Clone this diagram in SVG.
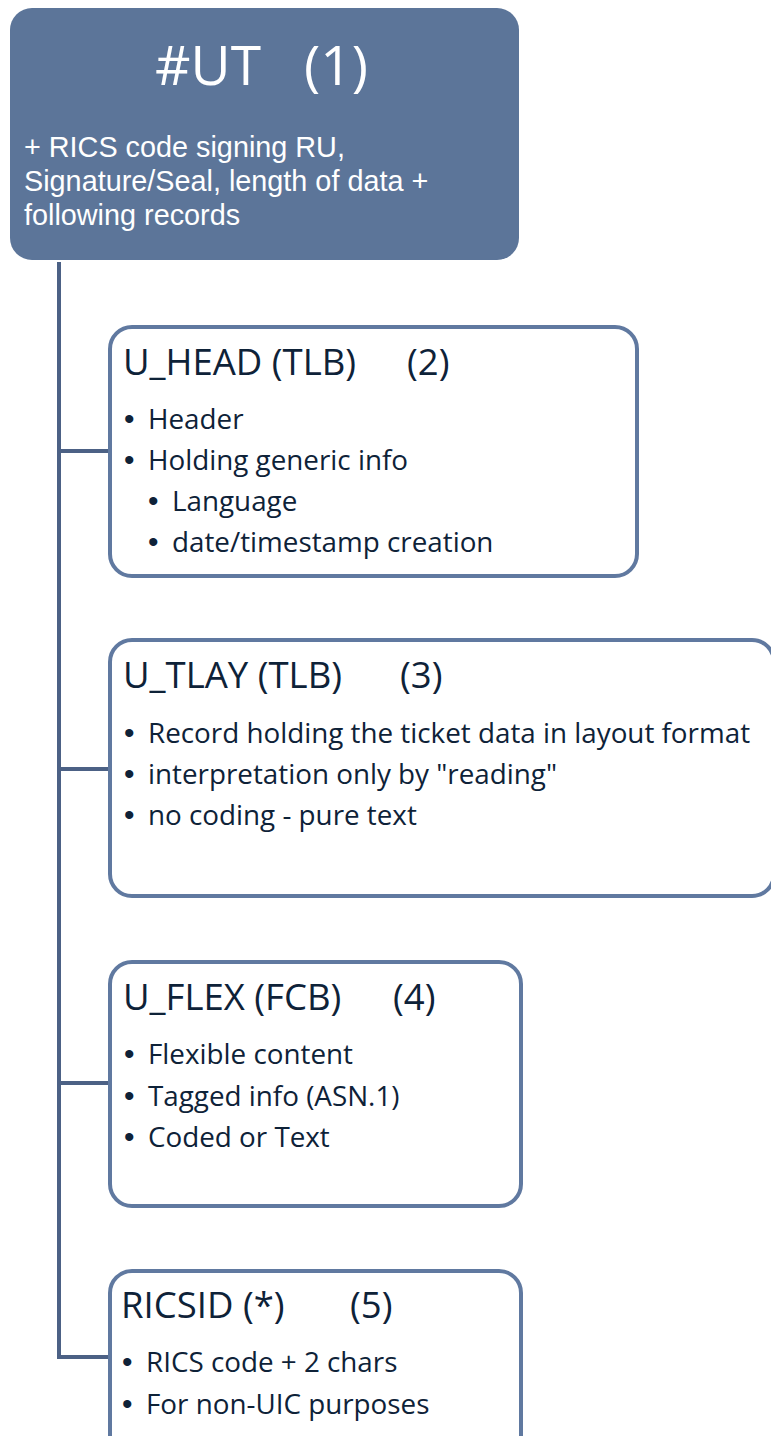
<svg xmlns="http://www.w3.org/2000/svg" width="771" height="1436" viewBox="0 0 771 1436">
<style>
.box{fill:#ffffff;stroke:#6079A0;stroke-width:4}
.conn{fill:none;stroke:#4C6185;stroke-width:4}
.t{font-family:"Open Sans","Noto Sans",sans-serif;fill:#0E2238}
.title{font-size:36.5px}
.item{font-size:27.8px}
.b{font-family:"Liberation Sans",sans-serif;font-size:30px;fill:#0E2238}
.w{font-family:"Open Sans","Noto Sans",sans-serif;fill:#ffffff}
.wb{font-family:"Liberation Sans",Arial,sans-serif;fill:#ffffff;font-size:28.8px}
</style>
<rect width="771" height="1436" fill="#ffffff"/>
<g id="connectors">
<path class="conn" d="M59 262 V1357 H111"/>
<path class="conn" d="M59 451 H111"/>
<path class="conn" d="M59 769 H111"/>
<path class="conn" d="M59 1083 H111"/>
</g>
<g id="node1">
<rect x="10" y="8" width="509" height="252" rx="22" fill="#5C7599"/>
<text class="w" x="155" y="85" font-size="55">#UT</text>
<text class="w" x="304" y="85" font-size="55">(1)</text>
<text class="wb" x="24" y="157">+ RICS code signing RU,</text>
<text class="wb" x="24" y="191">Signature/Seal, length of data +</text>
<text class="wb" x="24" y="225">following records</text>
</g>
<g id="node2">
<rect class="box" x="110" y="327" width="527" height="249" rx="22"/>
<text class="t title" x="123" y="375">U_HEAD (TLB)</text>
<text class="t title" x="407" y="375">(2)</text>
<text class="b" x="124" y="429">•</text><text class="t item" x="148" y="429">Header</text>
<text class="b" x="124" y="470">•</text><text class="t item" x="148" y="470">Holding generic info</text>
<text class="b" x="148" y="511">•</text><text class="t item" x="172" y="511">Language</text>
<text class="b" x="148" y="552">•</text><text class="t item" x="172" y="552">date/timestamp creation</text>
</g>
<g id="node3">
<rect class="box" x="110" y="640" width="664" height="256" rx="22"/>
<text class="t title" x="123" y="688">U_TLAY (TLB)</text>
<text class="t title" x="400" y="688">(3)</text>
<text class="b" x="124" y="743">•</text><text class="t item" x="148" y="743">Record holding the ticket data in layout format</text>
<text class="b" x="124" y="784">•</text><text class="t item" x="148" y="784">interpretation only by "reading"</text>
<text class="b" x="124" y="825">•</text><text class="t item" x="148" y="825">no coding - pure text</text>
</g>
<g id="node4">
<rect class="box" x="110" y="962" width="411" height="244" rx="22"/>
<text class="t title" x="123" y="1010">U_FLEX (FCB)</text>
<text class="t title" x="393" y="1010">(4)</text>
<text class="b" x="124" y="1064">•</text><text class="t item" x="148" y="1064">Flexible content</text>
<text class="b" x="124" y="1106">•</text><text class="t item" x="148" y="1106">Tagged info (ASN.1)</text>
<text class="b" x="124" y="1147">•</text><text class="t item" x="148" y="1147">Coded or Text</text>
</g>
<g id="node5">
<rect class="box" x="110" y="1271" width="411" height="190" rx="22"/>
<text class="t title" x="121" y="1318">RICSID (*)</text>
<text class="t title" x="350" y="1318">(5)</text>
<text class="b" x="122" y="1372">•</text><text class="t item" x="146" y="1372">RICS code + 2 chars</text>
<text class="b" x="122" y="1414">•</text><text class="t item" x="146" y="1414">For non-UIC purposes</text>
</g>
</svg>
